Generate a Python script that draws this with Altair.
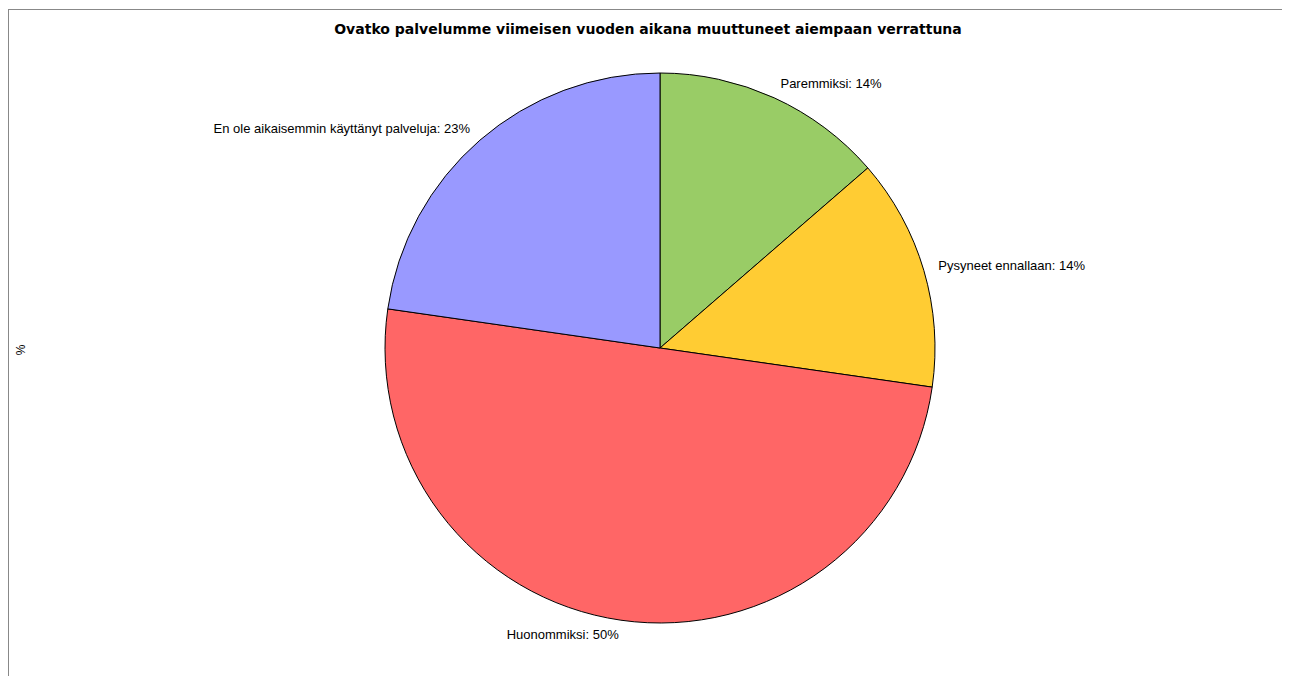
import altair as alt
import pandas as pd
import math

categories = ["Paremmiksi", "Pysyneet ennallaan", "Huonommiksi", "En ole aikaisemmin käyttänyt palveluja"]
counts = [3, 3, 11, 5]
percent_labels = ["14%", "14%", "50%", "23%"]
colors = ["#99CC66", "#FFCC33", "#FF6666", "#9999FF"]
sides = ["right", "right", "left", "left"]

df = pd.DataFrame({
    "cat": categories,
    "n": counts,
    "order": list(range(len(categories))),
    "label": [f"{c}: {p}" for c, p in zip(categories, percent_labels)],
    "side": sides,
})

W, H = 1274, 667
CX, CY = 652, 339
R = 275
LR = 290

pie = alt.Chart(df).mark_arc(radius=R, stroke="black", strokeWidth=1).encode(
    theta=alt.Theta("n:Q", stack=True),
    order=alt.Order("order:Q"),
    color=alt.Color("cat:N", scale=alt.Scale(domain=categories, range=colors), legend=None),
    x=alt.value(CX), y=alt.value(CY),
)

lab_font = dict(font="Liberation Sans", fontSize=13, color="black")

def label_layer(side, align):
    return alt.Chart(df).transform_joinaggregate(
        total="sum(n)"
    ).transform_window(
        cum="sum(n)", sort=[alt.SortField("order")], frame=[None, 0]
    ).transform_calculate(
        mid=f"(datum.cum - datum.n / 2) / datum.total * 2 * {math.pi}"
    ).transform_filter(
        alt.datum.side == side
    ).mark_text(radius=LR, align=align, baseline="middle", **lab_font).encode(
        theta=alt.Theta("mid:Q", scale=None),
        text="label:N",
        x=alt.value(CX), y=alt.value(CY),
    )

right_labels = label_layer("right", "left")
left_labels = label_layer("left", "right")

title = alt.Chart(pd.DataFrame({"t": ["Ovatko palvelumme viimeisen vuoden aikana muuttuneet aiempaan verrattuna"]})).mark_text(
    font="DejaVu Sans", fontSize=14, fontWeight="bold", align="center", baseline="middle", color="black"
).encode(text="t:N", x=alt.value(640), y=alt.value(21))

ylab = alt.Chart(pd.DataFrame({"t": ["%"]})).mark_text(
    font="Liberation Sans", fontSize=12, angle=270, align="center", baseline="middle", color="black"
).encode(text="t:N", x=alt.value(13), y=alt.value(341))

frame_top = alt.Chart(pd.DataFrame({"a": [0]})).mark_rule(color="#888888", strokeWidth=1).encode(
    x=alt.value(0), x2=alt.value(W), y=alt.value(0.5)
)
frame_left = alt.Chart(pd.DataFrame({"a": [0]})).mark_rule(color="#888888", strokeWidth=1).encode(
    x=alt.value(0.5), y=alt.value(0), y2=alt.value(H)
)

chart = alt.layer(frame_top, frame_left, pie, right_labels, left_labels, title, ylab).properties(
    width=W, height=H,
    autosize=alt.AutoSizeParams(type="none"),
    padding={"left": 0, "top": 1, "right": 0, "bottom": 0},
).configure_view(stroke=None)

chart.save("out.html", embed_options={"renderer": "svg", "actions": False})
